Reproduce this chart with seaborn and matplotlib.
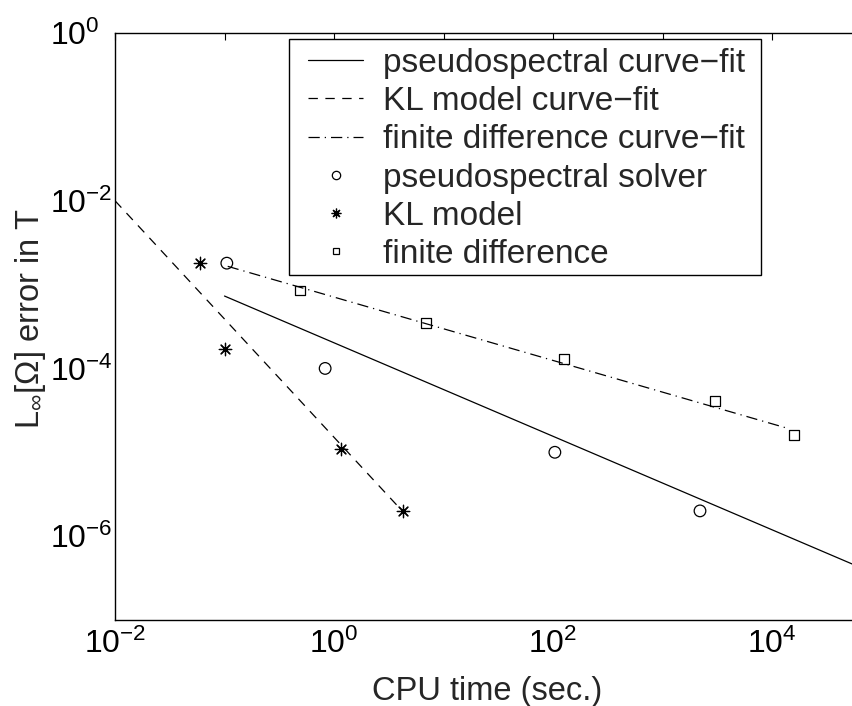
import numpy as np
import pandas as pd
import matplotlib
matplotlib.use("Agg")
import matplotlib.pyplot as plt
import seaborn as sns
from matplotlib.lines import Line2D
from matplotlib.patches import Rectangle

# ---- data ----
ps_time = [0.105, 0.83, 104, 2200]
ps_err = [1.8e-3, 1.0e-4, 1.0e-5, 2.0e-6]

kl_time = [0.06, 0.10, 1.16, 4.27]
kl_err = [1.8e-3, 1.7e-4, 1.1e-5, 2.0e-6]

fd_time = [0.49, 6.9, 126, 3000, 1.58e4]
fd_err = [8.5e-4, 3.5e-4, 1.3e-4, 4.1e-5, 1.6e-5]

# curve-fit line end points
ps_fit_time = [0.1, 1e5]
ps_fit_err = [7.3e-4, 3.3e-7]
kl_fit_time = [0.01, 4.27]
kl_fit_err = [1.0e-2, 1.95e-6]
fd_fit_time = [0.107, 1.45e4]
fd_fit_err = [1.65e-3, 1.9e-5]

legend_labels = ["pseudospectral curve\u2212fit", "KL model curve\u2212fit",
                 "finite difference curve\u2212fit", "pseudospectral solver",
                 "KL model", "finite difference"]

x_ticks = [1e-2, 1e-1, 1e0, 1e1, 1e2, 1e3, 1e4, 1e5]
x_labels = [r"$10^{-2}$", "", r"$10^{0}$", "", r"$10^{2}$", "", r"$10^{4}$", ""]
y_ticks = [1e-7, 1e-6, 1e-5, 1e-4, 1e-3, 1e-2, 1e-1, 1e0]
y_labels = ["", r"$10^{-6}$", "", r"$10^{-4}$", "", r"$10^{-2}$", "", r"$10^{0}$"]

# ---- style ----
sns.set_style("white")
plt.rcParams["font.family"] = ["Liberation Sans", "DejaVu Sans"]
plt.rcParams["mathtext.fontset"] = "custom"
plt.rcParams["mathtext.rm"] = "Liberation Sans"
plt.rcParams["mathtext.it"] = "Liberation Sans"
plt.rcParams["mathtext.sf"] = "Liberation Sans"
plt.rcParams["mathtext.fallback"] = "cm"

W, H = 852, 706
fig = plt.figure(figsize=(W / 100, H / 100), dpi=100)
ax_l, ax_r, ax_t, ax_b = 115, 881.5, 33, 620
ax = fig.add_axes([ax_l / W, (H - ax_b) / H, (ax_r - ax_l) / W, (ax_b - ax_t) / H])
ax.set_xscale("log")
ax.set_yscale("log")

def ax_x(px):
    return (px - ax_l) / (ax_r - ax_l)

def ax_y(py):
    return (ax_b - py) / (ax_b - ax_t)

lw = 0.9
sns.lineplot(x=ps_fit_time, y=ps_fit_err, ax=ax, color="black", lw=lw,
             estimator=None, sort=False)
sns.lineplot(x=kl_fit_time, y=kl_fit_err, ax=ax, color="black", lw=lw,
             estimator=None, sort=False)
ax.lines[-1].set_dashes((7.5, 6))
sns.lineplot(x=fd_fit_time, y=fd_fit_err, ax=ax, color="black", lw=lw,
             estimator=None, sort=False)
ax.lines[-1].set_dashes((9, 4, 1, 4))

sns.scatterplot(x=ps_time, y=ps_err, ax=ax, marker="o", s=70,
                facecolor="none", edgecolor="black", linewidth=0.9)
sns.scatterplot(x=kl_time, y=kl_err, ax=ax, marker=(8, 2, 0), s=80,
                color="black", linewidth=0.9)
sns.scatterplot(x=fd_time, y=fd_err, ax=ax, marker="s", s=50,
                facecolor="none", edgecolor="black", linewidth=0.9)

ax.set_xlim(1e-2, 1e5)
ax.set_ylim(1e-7, 1e0)
ax.set_xticks(x_ticks)
ax.set_xticklabels(x_labels)
ax.set_yticks(y_ticks)
ax.set_yticklabels(y_labels)
ax.minorticks_off()
ax.tick_params(axis="both", which="major", direction="in", length=5, width=0.8,
               labelsize=23, top=True, right=False, colors="black")
ax.tick_params(axis="x", pad=6)
ax.tick_params(axis="y", pad=(ax_l - 50) * 0.72)
for lab in ax.get_yticklabels():
    lab.set_horizontalalignment("left")
for side in ["left", "bottom", "top"]:
    ax.spines[side].set_visible(True)
    ax.spines[side].set_color("black")
    ax.spines[side].set_linewidth(1.0)
ax.spines["right"].set_visible(False)

ax.set_xlabel("CPU time (sec.)", fontsize=23.5)
ax.set_ylabel("L$_{\\infty}$[\u03a9] error in T", fontsize=23.5)
ax.xaxis.set_label_coords(ax_x(487), ax_y(676))
ax.yaxis.set_label_coords(ax_x(48), ax_y(319))

# legend frame drawn as a box, entries placed inside it
frame = Rectangle((ax_x(289), ax_y(275)), ax_x(761) - ax_x(289), ax_y(39) - ax_y(275),
                  transform=ax.transAxes, facecolor="white", edgecolor="black",
                  linewidth=1.0, zorder=4, clip_on=False)
ax.add_patch(frame)

handles = [
    Line2D([], [], color="black", lw=lw),
    Line2D([], [], color="black", lw=lw, dashes=(7.5, 6)),
    Line2D([], [], color="black", lw=lw, dashes=(9, 4, 1, 4)),
    Line2D([], [], ls="", marker="o", ms=6, mfc="none", mec="black", mew=0.9),
    Line2D([], [], ls="", marker=(8, 2, 0), ms=7, color="black", mew=0.9),
    Line2D([], [], ls="", marker="s", ms=5, mfc="none", mec="black", mew=0.9),
]
leg = ax.legend(handles, legend_labels, loc="upper left",
                bbox_to_anchor=(ax_x(308), ax_y(48)),
                fontsize=24, frameon=False, handlelength=1.65, handletextpad=0.6,
                labelspacing=0.215, borderpad=0, borderaxespad=0, numpoints=1)
leg.set_zorder(6)

fig.savefig("out.png", dpi=100)
